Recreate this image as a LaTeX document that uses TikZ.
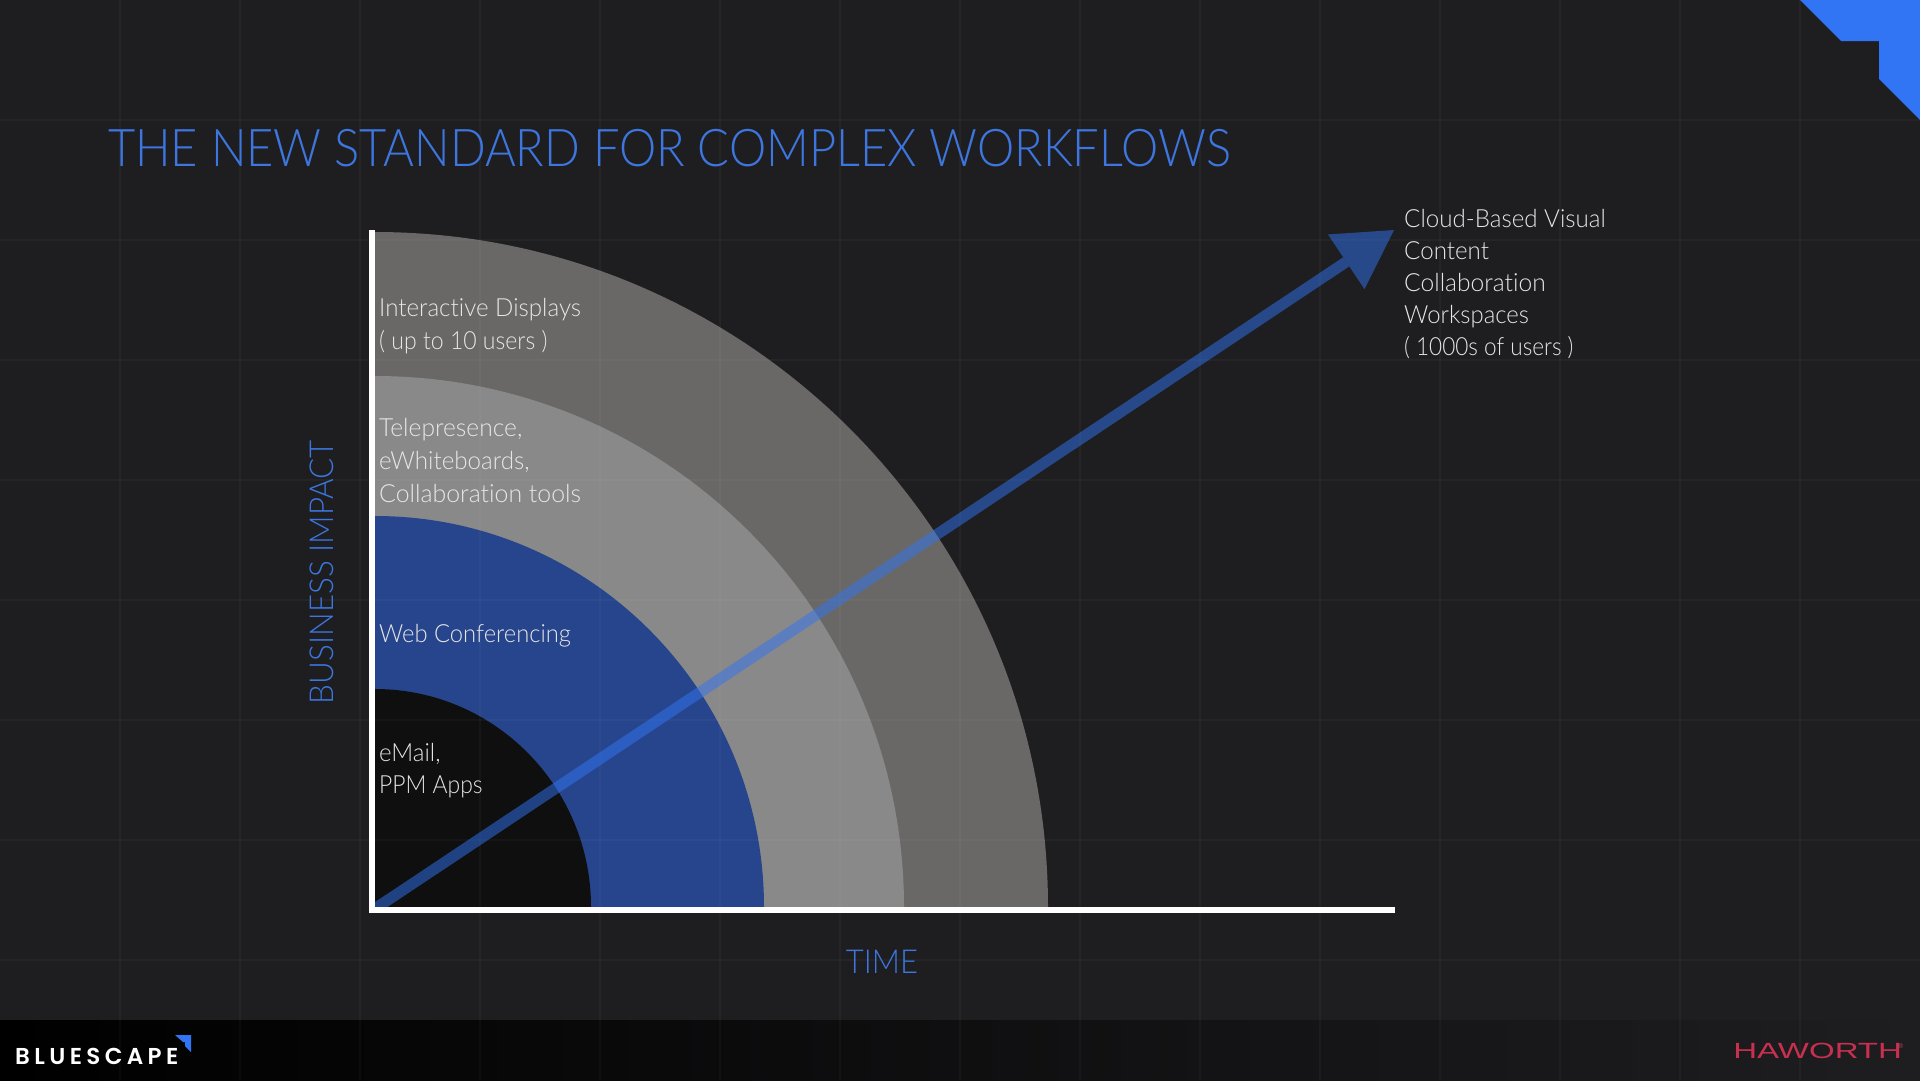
\documentclass[tikz,border=0pt]{standalone}
\usepackage{fontspec}
\setmainfont[Ligatures=NoCommon]{Lato Light}
\newfontfamily\logofont{Poppins SemiBold}
\newfontfamily\hawfont{Liberation Sans}
\usetikzlibrary{arrows.meta,shadings}
\definecolor{bgc}{HTML}{1E1D20}
\definecolor{ringa}{HTML}{696866}
\definecolor{ringb}{HTML}{898989}
\definecolor{ringc}{HTML}{27458C}
\definecolor{ringd}{HTML}{0F0F0F}
\definecolor{accent}{HTML}{3175F5}
\definecolor{titleblue}{HTML}{3C76DE}
\definecolor{hawred}{HTML}{C8304F}
\definecolor{labelc}{HTML}{E6E6E6}
\newcommand{\fsz}[1]{\fontsize{#1}{#1}\selectfont}
\tikzset{
  x=1pt,y=-1pt,
  ringlabel/.style={anchor=base west,inner sep=0pt,text=labelc,xscale=0.965,font=\fsz{25}},
  axislabel/.style={inner sep=0pt,text=titleblue,font=\fsz{33}},
  axisbar/.style={fill=white,draw=none},
  gridline/.style={white,opacity=0.03,line width=1.2pt},
}
\begin{document}
\begin{tikzpicture}
\useasboundingbox (0,0) rectangle (1920,1080);
\fill[bgc] (0,0) rectangle (1920,1080);
% footer
\shade[left color=black,right color=bgc] (0,1020) rectangle (1920,1080);
% rings
\coordinate (origin) at (375,907);
\fill[ringa] (origin) -- (1048,907) arc[start angle=0,end angle=-90,x radius=673,y radius=675] -- cycle;
\fill[ringb] (origin) -- (904,907) arc[start angle=0,end angle=-90,x radius=529,y radius=531] -- cycle;
\fill[ringc] (origin) -- (764,907) arc[start angle=0,end angle=-90,x radius=389,y radius=391] -- cycle;
\fill[ringd] (origin) -- (591,907) arc[start angle=0,end angle=-90,x radius=216,y radius=218] -- cycle;
% grid
\foreach \gx in {120,240,...,1800} \draw[gridline] (\gx,0) -- (\gx,1080);
\foreach \gy in {120,240,...,960} \draw[gridline] (0,\gy) -- (1920,\gy);
% arrow
\coordinate (arrowstart) at (376,908);
\coordinate (arrowtip) at (1394,230);
\begin{scope}[transparency group,opacity=0.5]
\draw[accent,line width=11pt,-{Triangle[length=57.4pt,width=65.7pt,line width=0pt]}] (arrowstart) -- (arrowtip);
\end{scope}
% axes
\fill[axisbar] (369,230) rectangle (375,913);
\fill[axisbar] (369,907) rectangle (1395,913);
% corner
\fill[accent] (1800,0) -- (1841,41) -- (1879,41) -- (1879,79) -- (1920,120) -- (1920,0) -- cycle;
% texts
\node[anchor=base west,inner sep=0pt,text=titleblue,xscale=0.905,font=\fsz{52}] (title) at (108,166) {THE NEW STANDARD FOR COMPLEX WORKFLOWS};
\node[ringlabel] (l1a) at (379,316) {Interactive Displays};
\node[ringlabel,xscale=0.955] (l1b) at (379,349) {( up to 10 users )};
\node[ringlabel,xscale=1.02] (l2a) at (379,436) {Telepresence,};
\node[ringlabel] (l2b) at (379,469) {eWhiteboards,};
\node[ringlabel,xscale=1.03] (l2c) at (379,502) {Collaboration tools};
\node[ringlabel,xscale=0.985] (l3) at (379,642) {Web Conferencing};
\node[ringlabel] (l4a) at (379,761) {eMail,};
\node[ringlabel,xscale=0.95] (l4b) at (379,793) {PPM Apps};
\node[ringlabel] (c1) at (1404,227) {Cloud-Based Visual};
\node[ringlabel] (c2) at (1404,259) {Content};
\node[ringlabel,xscale=1.02] (c3) at (1404,291) {Collaboration};
\node[ringlabel,xscale=0.99] (c4) at (1404,323) {Workspaces};
\node[ringlabel,xscale=0.935] (c5) at (1404,355) {( 1000s of users )};
\node[axislabel,rotate=90,xscale=0.95] (yl) at (322,572) {BUSINESS IMPACT};
\node[axislabel,xscale=0.94] (xl) at (882,962) {TIME};
% logos
\node[anchor=base west,inner sep=0pt,text=white,font=\logofont\fsz{23}] (bs) at (15,1064) {B\kern4.4pt L\kern4.4pt U\kern4.4pt E\kern4.4pt S\kern4.4pt C\kern4.4pt A\kern4.4pt P\kern4.4pt E};
\fill[accent] (175,1035) -- (191,1035) -- (191,1052) -- (185,1046) -- (185,1042) -- (183,1042) -- cycle;
\node[anchor=base west,inner sep=0pt,text=hawred,xscale=1.5,font=\hawfont\fsz{22}] (hw) at (1733,1058) {HAWORTH};
\node[anchor=base west,inner sep=0pt,text=hawred!70!gray,font=\hawfont\fsz{7}] (hwr) at (1898,1048) {®};
\end{tikzpicture}
\end{document}
